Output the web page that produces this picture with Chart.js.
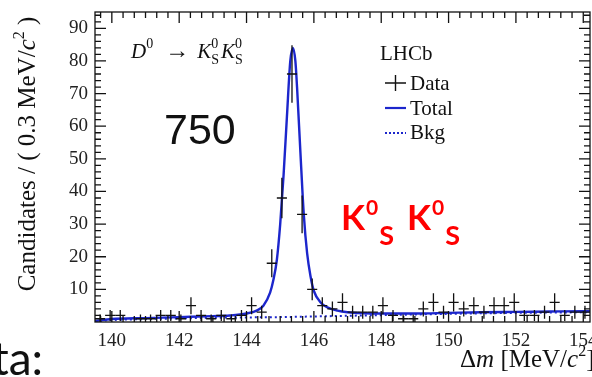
<!DOCTYPE html>
<html>
<head>
<meta charset="utf-8">
<script src="https://cdn.jsdelivr.net/npm/chart.js@4.4.1/dist/chart.umd.min.js"></script>
<style>
  body { margin: 0; background: #fff; }
  canvas { display: block; }
</style>
</head>
<body>
<canvas id="myChart" width="592" height="377"></canvas>
<script>
'use strict';

// **************************** DATA ****************************

// bin centres of the 0.3 MeV bins, and the counts
let binCenters = [139.65, 139.95, 140.25, 140.55, 140.85, 141.15, 141.45, 141.75, 142.05, 142.35,
  142.65, 142.95, 143.25, 143.55, 143.85, 144.15, 144.45, 144.75, 145.05, 145.35,
  145.65, 145.95, 146.25, 146.55, 146.85, 147.15, 147.45, 147.75, 148.05, 148.35,
  148.65, 148.95, 149.25, 149.55, 149.85, 150.15, 150.45, 150.75, 151.05, 151.35,
  151.65, 151.95, 152.25, 152.55, 152.85, 153.15, 153.45, 153.75, 154.05];
let dataCounts = [1, 2, 2, 0, 1, 1, 2, 2, 1, 5,
  2, 1, 2, 1, 2, 5, 3, 18, 38, 76,
  33, 10, 5, 4, 6, 3, 3, 3, 5, 2,
  1, 1, 4, 6, 3, 6, 4, 5, 3, 5,
  5, 6, 2, 2, 3, 6, 2, 3, 3];
let dataErrors = [1.3, 1.7, 1.7, 0, 1.3, 1.3, 1.7, 1.7, 1.3, 2.6,
  1.7, 1.3, 1.7, 1.3, 1.7, 2.6, 2.0, 4.3, 6.2, 8.8,
  5.8, 3.3, 2.6, 2.3, 2.8, 2.0, 2.0, 2.0, 2.6, 1.7,
  1.3, 1.3, 2.3, 2.8, 2.0, 2.8, 2.3, 2.6, 2.0, 2.6,
  2.6, 2.8, 1.7, 1.7, 2.0, 2.8, 1.7, 2.0, 2.0];
let binHalfWidth = 0.15;

// fit curves (Total and Bkg)
let totalX = [139.5, 140.0, 141.0, 142.0, 143.0, 143.5, 144.0, 144.3, 144.5, 144.7,
  144.8, 144.9, 145.0, 145.1, 145.2, 145.3, 145.38, 145.45, 145.5, 145.6,
  145.7, 145.8, 145.9, 146.0, 146.2, 146.4, 146.7, 147.0, 147.5, 148.0,
  149.0, 150.0, 151.0, 152.0, 153.0, 154.0, 154.5];
let totalY = [0.3, 0.9, 1.2, 1.5, 1.8, 2.0, 2.6, 3.5, 5, 9,
  13, 19, 30, 45, 63, 80, 84, 80, 72, 52,
  33, 21, 14, 9.5, 6, 4.5, 3.5, 3.0, 2.7, 2.6,
  2.6, 2.8, 3.0, 3.1, 3.2, 3.3, 3.3];
let bkgX = [139.5, 139.7, 140, 141, 142, 143, 144, 145, 146, 147, 148, 150, 152, 154, 154.5];
let bkgY = [0, 0.4, 0.6, 0.9, 1.1, 1.3, 1.4, 1.5, 1.7, 1.9, 2.1, 2.5, 2.8, 3.0, 3.1];

let xTickLabels = [140, 142, 144, 146, 148, 150, 152, 154];
let yTickLabels = [10, 20, 30, 40, 50, 60, 70, 80, 90];

// **************************** HELPERS ****************************

const SERIF = '"Liberation Serif"';
const BLUE = '#1c26cc';

function toPoints(xs, ys) {
  let pts = [];
  for (let i = 0; i < xs.length; i++) {
    pts.push({ x: xs[i], y: ys[i] });
  }
  return pts;
}

// draws a run of text pieces side by side; piece.stay keeps the pen where it is
function drawParts(ctx, x, y, parts) {
  let cx = x;
  for (let p of parts) {
    ctx.font = p.font;
    ctx.fillText(p.text, cx, y + (p.dy || 0));
    if (!p.stay) {
      cx += ctx.measureText(p.text).width + (p.gap || 0);
    }
  }
  return cx;
}

function partsWidth(ctx, parts) {
  let w = 0;
  for (let p of parts) {
    ctx.font = p.font;
    if (!p.stay) w += ctx.measureText(p.text).width + (p.gap || 0);
  }
  return w;
}

// **************************** PLUGIN ****************************

let overlayPlugin = {
  id: 'overlay',

  afterDatasetsDraw(chart) {
    let ctx = chart.ctx;
    let a = chart.chartArea;
    let xs = chart.scales.x;
    let ys = chart.scales.y;

    ctx.save();
    ctx.beginPath();
    ctx.rect(a.left, a.top, a.right - a.left, a.bottom - a.top);
    ctx.clip();
    ctx.strokeStyle = '#111';
    ctx.lineWidth = 1.3;
    for (let i = 0; i < binCenters.length; i++) {
      if (dataCounts[i] === 0) continue;
      let px = xs.getPixelForValue(binCenters[i]);
      let py = ys.getPixelForValue(dataCounts[i]);
      let x0 = xs.getPixelForValue(binCenters[i] - binHalfWidth);
      let x1 = xs.getPixelForValue(binCenters[i] + binHalfWidth);
      let y0 = ys.getPixelForValue(Math.max(0, dataCounts[i] - dataErrors[i]));
      let y1 = ys.getPixelForValue(dataCounts[i] + dataErrors[i]);
      ctx.beginPath();
      ctx.moveTo(x0, py);
      ctx.lineTo(x1, py);
      ctx.moveTo(px, y0);
      ctx.lineTo(px, y1);
      ctx.stroke();
    }
    ctx.restore();
  },

  afterDraw(chart) {
    let ctx = chart.ctx;
    let a = chart.chartArea;
    let xs = chart.scales.x;
    let ys = chart.scales.y;

    ctx.save();

    // frame with inward ticks on all sides
    ctx.strokeStyle = '#111';
    ctx.lineWidth = 1.3;
    ctx.strokeRect(a.left, a.top, a.right - a.left, a.bottom - a.top);
    ctx.beginPath();
    for (let k = 419; k <= 462; k++) {
      let px = xs.getPixelForValue(k / 3);
      let len = (k % 6 === 0) ? 11 : 6;
      ctx.moveTo(px, a.bottom);
      ctx.lineTo(px, a.bottom - len);
      ctx.moveTo(px, a.top);
      ctx.lineTo(px, a.top + len);
    }
    for (let k = 1; k <= 47; k++) {
      let py = ys.getPixelForValue(k * 2);
      let len = (k % 5 === 0) ? 11 : 6;
      ctx.moveTo(a.left, py);
      ctx.lineTo(a.left + len, py);
      ctx.moveTo(a.right, py);
      ctx.lineTo(a.right - len, py);
    }
    ctx.stroke();

    ctx.fillStyle = '#111';
    ctx.textBaseline = 'alphabetic';
    ctx.textAlign = 'left';

    // y axis title
    let yTitle = [
      { text: 'Candidates / ( 0.3 MeV/', font: '25px ' + SERIF },
      { text: 'c', font: 'italic 25px ' + SERIF },
      { text: '2', font: '16px ' + SERIF, dy: -11 },
      { text: ' )', font: '25px ' + SERIF }
    ];
    ctx.save();
    ctx.translate(35, 154);
    ctx.rotate(-Math.PI / 2);
    drawParts(ctx, -partsWidth(ctx, yTitle) / 2, 0, yTitle);
    ctx.restore();

    // x axis title (runs off the right edge like the original)
    drawParts(ctx, 460, 367, [
      { text: '\u0394', font: '25px ' + SERIF },
      { text: 'm', font: 'italic 25px ' + SERIF },
      { text: ' [MeV/', font: '25px ' + SERIF },
      { text: 'c', font: 'italic 25px ' + SERIF },
      { text: '2', font: '16px ' + SERIF, dy: -11 },
      { text: ']', font: '25px ' + SERIF }
    ]);

    // decay label
    drawParts(ctx, 131, 58, [
      { text: 'D', font: 'italic 21px ' + SERIF },
      { text: '0', font: '14px ' + SERIF, dy: -10, gap: 12 },
      { text: '\u2192', font: '24px ' + SERIF, gap: 8 },
      { text: 'K', font: 'italic 21px ' + SERIF },
      { text: '0', font: '14px ' + SERIF, dy: -10, stay: true },
      { text: 'S', font: '14px ' + SERIF, dy: 6, gap: 2 },
      { text: 'K', font: 'italic 21px ' + SERIF },
      { text: '0', font: '14px ' + SERIF, dy: -10, stay: true },
      { text: 'S', font: '14px ' + SERIF, dy: 6 }
    ]);

    // LHCb and legend
    ctx.font = '21px ' + SERIF;
    ctx.fillText('LHCb', 380, 60);
    ctx.fillText('Data', 410, 90);
    ctx.fillText('Total', 410, 115);
    ctx.fillText('Bkg', 410, 139);

    ctx.strokeStyle = '#111';
    ctx.lineWidth = 1.4;
    ctx.beginPath();
    ctx.moveTo(385, 83);
    ctx.lineTo(406, 83);
    ctx.moveTo(395.5, 75);
    ctx.lineTo(395.5, 91);
    ctx.stroke();

    ctx.strokeStyle = BLUE;
    ctx.lineWidth = 2.2;
    ctx.beginPath();
    ctx.moveTo(385, 108);
    ctx.lineTo(406, 108);
    ctx.stroke();

    ctx.lineWidth = 2;
    ctx.setLineDash([2, 2]);
    ctx.beginPath();
    ctx.moveTo(385, 133);
    ctx.lineTo(406, 133);
    ctx.stroke();
    ctx.setLineDash([]);

    // yield
    ctx.fillStyle = '#111';
    ctx.font = '43px "Liberation Sans"';
    ctx.fillText('750', 164, 144);

    // red channel label
    ctx.fillStyle = '#ff0000';
    drawParts(ctx, 341, 230, [
      { text: 'K', font: 'bold 35px Lato', gap: 1 },
      { text: '0', font: 'bold 21px Lato', dy: -15, gap: 1 },
      { text: 'S', font: 'bold 27px Lato', dy: 15, gap: 13 },
      { text: 'K', font: 'bold 35px Lato', gap: 1 },
      { text: '0', font: 'bold 21px Lato', dy: -15, gap: 1 },
      { text: 'S', font: 'bold 27px Lato', dy: 15 }
    ]);

    // leftover slide text in the corner
    ctx.fillStyle = '#111';
    ctx.textAlign = 'right';
    ctx.font = '46px Lato';
    ctx.fillText('Data:', 43, 375);

    ctx.restore();
  }
};

// **************************** CHART ****************************

let ctx = document.getElementById('myChart');

function noEdgePadding(s) {
  s.paddingLeft = 0;
  s.paddingRight = 0;
  s.paddingTop = 0;
  s.paddingBottom = 0;
}

let myChartObj = {
  type: 'scatter',
  data: {
    datasets: [{
      label: 'Bkg',
      type: 'line',
      data: toPoints(bkgX, bkgY),
      borderColor: BLUE,
      borderWidth: 2,
      borderDash: [2, 3],
      pointRadius: 0,
      cubicInterpolationMode: 'monotone',
      fill: false
    },
    {
      label: 'Total',
      type: 'line',
      data: toPoints(totalX, totalY),
      borderColor: BLUE,
      borderWidth: 2.4,
      pointRadius: 0,
      cubicInterpolationMode: 'monotone',
      fill: false
    },
    {
      label: 'Data',
      data: toPoints(binCenters, dataCounts),
      pointRadius: 0
    }]
  },
  options: {
    responsive: false,
    animation: false,
    devicePixelRatio: 1,
    layout: { padding: { top: 12, right: 2, left: 0, bottom: 0 } },
    plugins: {
      legend: { display: false },
      tooltip: { enabled: false }
    },
    scales: {
      x: {
        type: 'linear',
        min: 139.5,
        max: 154.2,
        grid: { display: false, drawTicks: false },
        border: { display: false },
        afterBuildTicks: (s) => { s.ticks = xTickLabels.map((v) => ({ value: v })); },
        afterFit: (s) => { s.height = 55; noEdgePadding(s); },
        ticks: {
          padding: 8,
          color: '#222',
          maxRotation: 0,
          font: { family: 'Liberation Serif', size: 19 }
        }
      },
      y: {
        min: 0,
        max: 95,
        grid: { display: false, drawTicks: false },
        border: { display: false },
        afterBuildTicks: (s) => { s.ticks = yTickLabels.map((v) => ({ value: v })); },
        afterFit: (s) => { s.width = 95; noEdgePadding(s); },
        ticks: {
          padding: 7,
          color: '#222',
          font: { family: 'Liberation Serif', size: 19 }
        }
      }
    }
  },
  plugins: [overlayPlugin]
};

new Chart(ctx, myChartObj);
</script>
</body>
</html>
